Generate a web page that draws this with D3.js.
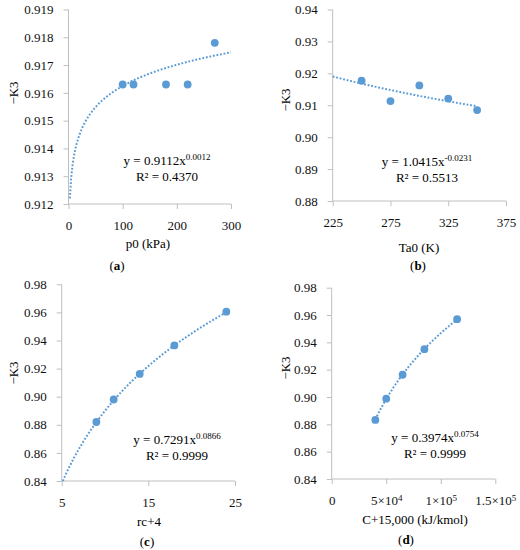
<!DOCTYPE html>
<html>
<head>
<meta charset="utf-8">
<script src="https://cdn.jsdelivr.net/npm/d3@7"></script>
<style>
  body { margin: 0; background: #fff; }
  svg { font-family: "Liberation Serif", "DejaVu Serif", serif; }
  .axis path, .axis line { stroke: #bfbfbf; }
  .axis text { font-size: 13px; fill: #111; font-family: "Liberation Serif", serif; }
</style>
</head>
<body>
<div id="chart"></div>
<script>
// --- data ---
const aX = [100, 120, 180, 220, 270]
const aY = [0.9163, 0.9163, 0.9163, 0.9163, 0.9178]
const bX = [250, 275, 300, 325, 350]
const bY = [0.9177, 0.9113, 0.9162, 0.9121, 0.9085]
const cX = [9, 11, 14, 18, 24]
const cY = [0.8820, 0.8980, 0.9162, 0.9365, 0.9605]
const dX = [40000, 50000, 65000, 85000, 115000]
const dY = [0.8832, 0.8988, 0.9163, 0.9350, 0.9570]

// power trendlines y = A x^B as printed on the chart
const trendA = [0.9112, 1.0415, 0.7291, 0.3974]
const trendB = [0.0012, -0.0231, 0.0866, 0.0754]
const trendAText = ['0.9112', '1.0415', '0.7291', '0.3974']
const trendBText = ['0.0012', '-0.0231', '0.0866', '0.0754']
const r2Text = ['0.4370', '0.5513', '0.9999', '0.9999']
const trendFrom = [2.5, 225, 5.13, 40000]
const trendTo = [300, 350, 24.5, 115000]

// axes
const aXTicks = [0, 100, 200, 300]
const aYTicks = [0.912, 0.913, 0.914, 0.915, 0.916, 0.917, 0.918, 0.919]
const bXTicks = [225, 275, 325, 375]
const bYTicks = [0.88, 0.89, 0.90, 0.91, 0.92, 0.93, 0.94]
const cXTicks = [5, 15, 25]
const cYTicks = [0.84, 0.86, 0.88, 0.90, 0.92, 0.94, 0.96, 0.98]
const dXTicks = [0, 50000, 100000, 150000]
const dYTicks = cYTicks

const xTitles = ['p0 (kPa)', 'Ta0 (K)', 'rc+4', 'C+15,000 (kJ/kmol)']
const panelLetters = ['a', 'b', 'c', 'd']
const yTitle = '\u2212K3'

// --- layout ---
const color = '#5b9bd5'
const panels = [
  { xs: aX, ys: aY, xt: aXTicks, yt: aYTicks, yDec: 3,
    box: { l: 68.5, r: 231, t: 9.5, b: 204 },
    yLab: [13, 93], xLab: [148, 248], tag: [117, 270], eq: [167, 165] },
  { xs: bX, ys: bY, xt: bXTicks, yt: bYTicks, yDec: 2,
    box: { l: 332.7, r: 506, t: 9.5, b: 201 },
    yLab: [285, 100], xLab: [419, 252], tag: [418, 270], eq: [427, 166] },
  { xs: cX, ys: cY, xt: cXTicks, yt: cYTicks, yDec: 2,
    box: { l: 61.7, r: 235, t: 284.3, b: 481 },
    yLab: [13, 373], xLab: [149, 526], tag: [147, 546], eq: [177, 444] },
  { xs: dX, ys: dY, xt: dXTicks, yt: dYTicks, yDec: 2, sci: true,
    box: { l: 331.7, r: 495.3, t: 287.7, b: 479 },
    yLab: [285, 368], xLab: [415, 524], tag: [406, 544], eq: [435, 442] }
]

const svg = d3.select('#chart').append('svg')
    .attr('width', 520)
    .attr('height', 550)

panels.forEach((p, i) => {
  const x = d3.scaleLinear()
      .domain([p.xt[0], p.xt[p.xt.length - 1]])
      .range([p.box.l, p.box.r])
  const y = d3.scaleLinear()
      .domain([p.yt[0], p.yt[p.yt.length - 1]])
      .range([p.box.b, p.box.t])

  const g = svg.append('g')

  const yAxis = d3.axisLeft(y)
      .tickValues(p.yt)
      .tickSize(5)
      .tickPadding(10)
      .tickFormat(d3.format('.' + p.yDec + 'f'))
  g.append('g')
      .attr('class', 'axis')
      .attr('transform', `translate(${p.box.l},0)`)
      .call(yAxis)
      .call(s => s.select('.domain').attr('d', `M0,${p.box.t}V${p.box.b}`))

  const xAxis = d3.axisBottom(x)
      .tickValues(p.xt)
      .tickSize(5)
      .tickPadding(12)
  const xg = g.append('g')
      .attr('class', 'axis')
      .attr('transform', `translate(0,${p.box.b})`)
      .call(xAxis)
      .call(s => s.select('.domain').attr('d', `M${p.box.l},0H${p.box.r}`))

  if (p.sci) {
    // tick labels like 5×10⁴ with a real superscript
    xg.selectAll('.tick text').each(function (d) {
      const t = d3.select(this).text('')
      if (d === 0) { t.text('0'); return }
      const e = Math.floor(Math.log10(d))
      const m = d / Math.pow(10, e)
      t.append('tspan').text((m === 1 ? '1' : m) + '\u00d710')
      t.append('tspan').attr('font-size', '9px').attr('dy', '-0.45em').text(e)
    })
  }

  // trendline, dotted
  const tx = d3.range(0, 121).map(k => p.xs && (trendFrom[i] + (trendTo[i] - trendFrom[i]) * k / 120))
  g.append('path')
      .datum(tx)
      .attr('fill', 'none')
      .attr('stroke', color)
      .attr('stroke-width', 2)
      .attr('stroke-dasharray', '1.8,1.8')
      .attr('d', d3.line()
        .x(v => x(v))
        .y(v => y(trendA[i] * Math.pow(v, trendB[i]))))

  // data points
  g.selectAll('circle')
      .data(p.xs.map((v, k) => [v, p.ys[k]]))
      .enter()
    .append('circle')
      .attr('cx', d => x(d[0]))
      .attr('cy', d => y(d[1]))
      .attr('r', 3.9)
      .attr('fill', color)

  // equation + R²
  const eq = g.append('text')
      .attr('x', p.eq[0])
      .attr('y', p.eq[1])
      .attr('text-anchor', 'middle')
      .attr('font-size', '13px')
  eq.append('tspan').text('y = ' + trendAText[i] + 'x')
  eq.append('tspan').attr('font-size', '9px').attr('dy', '-0.55em').text(trendBText[i])

  g.append('text')
      .attr('x', p.eq[0])
      .attr('y', p.eq[1] + 16)
      .attr('text-anchor', 'middle')
      .attr('font-size', '13px')
      .text('R\u00b2 = ' + r2Text[i])

  // axis titles
  g.append('text')
      .attr('transform', `translate(${p.yLab[0]},${p.yLab[1]}) rotate(-90)`)
      .attr('text-anchor', 'middle')
      .attr('dy', '0.35em')
      .attr('font-size', '13px')
      .text(yTitle)

  g.append('text')
      .attr('x', p.xLab[0])
      .attr('y', p.xLab[1])
      .attr('text-anchor', 'middle')
      .attr('font-size', '13px')
      .text(xTitles[i])

  const tag = g.append('text')
      .attr('x', p.tag[0])
      .attr('y', p.tag[1])
      .attr('text-anchor', 'middle')
      .attr('font-size', '13px')
  tag.append('tspan').text('(')
  tag.append('tspan').attr('font-weight', 'bold').text(panelLetters[i])
  tag.append('tspan').text(')')
})
</script>
</body>
</html>
